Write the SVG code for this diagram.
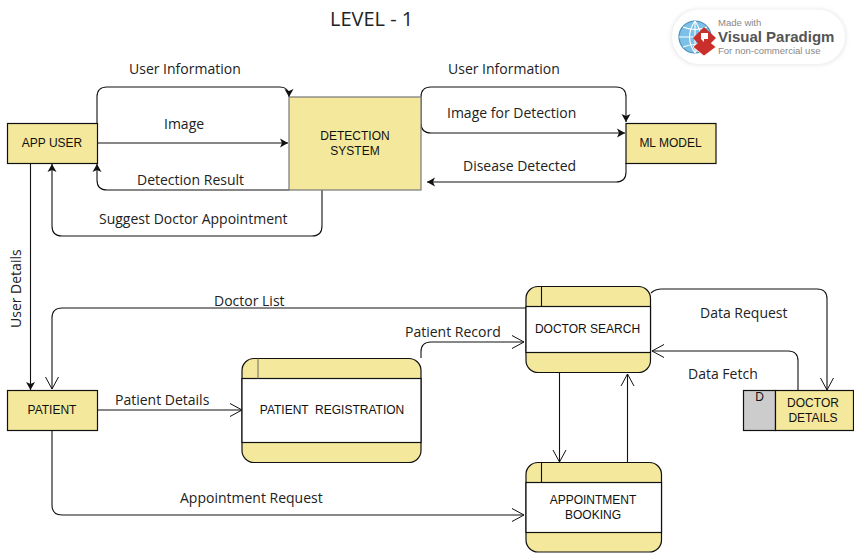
<svg xmlns="http://www.w3.org/2000/svg" width="854" height="553" viewBox="0 0 854 553">
<style>
text{font-family:"Open Sans","Liberation Sans",sans-serif;fill:#222}
.lab{font-size:14px}
.n{font-family:"Liberation Sans",Arial,sans-serif;font-size:12px;fill:#111;text-anchor:middle}
.lg{font-family:"Liberation Sans",Arial,sans-serif;fill:#888}
.box{fill:#f4e89c;stroke:#111;stroke-width:1.2}
.body{fill:#fff;stroke:#111;stroke-width:1.2}
.c{fill:none;stroke:#111;stroke-width:1.1}
.o{marker-end:url(#open)}
.f{marker-end:url(#fill)}
</style>
<defs>
<marker id="open" markerUnits="userSpaceOnUse" markerWidth="16" markerHeight="16" refX="13" refY="8" orient="auto"><path d="M1 1.500L13 8L1 14.500" fill="none" stroke="#111" stroke-width="1"/></marker>
<marker id="fill" markerUnits="userSpaceOnUse" markerWidth="12" markerHeight="12" refX="9" refY="6" orient="auto"><path d="M1 1.500L9 6L1 10.500L3 6Z" fill="#111"/></marker>
<filter id="sh" x="-10%" y="-20%" width="120%" height="140%"><feGaussianBlur stdDeviation="2"/></filter>
</defs>
<text x="330" y="26" font-size="20">LEVEL - 1</text>
<g id="logo">
<rect x="671" y="9" width="175" height="56" rx="27" fill="#e8e8e8" filter="url(#sh)"/>
<rect x="672" y="9.500" width="173" height="54.500" rx="27" fill="#fff"/>
<circle cx="695" cy="37" r="16" fill="#7cc0e8" stroke="#4a8fb8" stroke-width="1.200"/>
<path d="M679 37H711M695 21V53M683 27Q695 32 707 27M683 47Q695 42 707 47M695 21Q684 37 695 53M695 21Q706 37 695 53" fill="none" stroke="#fff" stroke-width="1.100"/>
<path d="M704 37L716 47L704 56L693 47Z" fill="#c9302c" stroke="#fff" stroke-width="0.800"/>
<path d="M704 27L716 38L704 50L693 38Z" fill="#c9302c"/>
<path d="M701 33L708 33L708 39L704 39L704 42L701 39Z" fill="#fff"/>
<text class="lg" x="718" y="26" font-size="9.500">Made with</text>
<text class="lg" x="718" y="42" font-size="15" font-weight="700" style="fill:#555">Visual Paradigm</text>
<text class="lg" x="718" y="54" font-size="9.500">For non-commercial use</text>
</g>
<g id="connectors">
<path class="c f" d="M97 123V97Q97 87 107 87H280Q289 87 289 97"/>
<path class="c f" d="M97 143H288"/>
<path class="c f" d="M289 190H107Q97 190 97 180V164"/>
<path class="c f" d="M322 190V226Q322 236 312 236H62Q52 236 52 226V164"/>
<path class="c f" d="M30.500 163V390"/>
<path class="c o" d="M526 308H62Q52 308 52 318V389"/>
<path class="c o" d="M97 410H242"/>
<path class="c o" d="M52 430V505Q52 515 62 515H524"/>
<path class="c o" d="M421 358V352Q421 342 431 342H524"/>
<path class="c o" d="M559.500 372V462"/>
<path class="c o" d="M627.500 462V374"/>
<path class="c o" d="M651 293Q655 289 662 289H817Q827 289 827 299V390"/>
<path class="c o" d="M798 390V361Q798 351 788 351H652"/>
<path class="c f" d="M421 123V97Q421 87 431 87H616Q626 87 626 97V122"/>
<path class="c f" d="M421 123Q421 133 431 133H625"/>
<path class="c f" d="M626 163V172Q626 182 616 182H427"/>
</g>
<g id="app-user"><rect class="box" x="7.500" y="123.500" width="90" height="40"/><text class="n" x="52" y="147">APP USER</text></g>
<g id="detection-system"><rect class="box" x="289" y="97" width="132" height="93" style="stroke:#777"/><text class="n" x="355" y="140">DETECTION</text><text class="n" x="355" y="155">SYSTEM</text></g>
<g id="ml-model"><rect class="box" x="626" y="123.500" width="90" height="40"/><text class="n" x="670.500" y="147">ML MODEL</text></g>
<g id="patient"><rect class="box" x="7.500" y="390.500" width="90" height="40"/><text class="n" x="52" y="414">PATIENT</text></g>
<g id="patient-registration"><rect class="box" x="242" y="358.500" width="179" height="104" rx="12"/><rect class="body" x="242" y="378.500" width="179" height="64"/><path class="c" d="M258 358.500V378.500" style="stroke:#776"/><text class="n" x="332" y="414" xml:space="preserve">PATIENT  REGISTRATION</text></g>
<g id="doctor-search"><rect class="box" x="526" y="286.500" width="124.500" height="86" rx="12"/><rect class="body" x="526" y="306.500" width="124.500" height="46"/><path class="c" d="M541.500 286.500V306.500"/><text class="n" x="587.500" y="333">DOCTOR SEARCH</text></g>
<g id="appointment-booking"><rect class="box" x="526" y="462.500" width="135.500" height="89.500" rx="12"/><rect class="body" x="526" y="482.500" width="135.500" height="50"/><path class="c" d="M541.500 462.500V482.500"/><text class="n" x="593" y="504">APPOINTMENT</text><text class="n" x="593" y="519">BOOKING</text></g>
<g id="doctor-details"><rect x="743.500" y="390.500" width="32" height="40" fill="#ccc" stroke="#111" stroke-width="1.200"/><rect class="box" x="775.500" y="390.500" width="78" height="40"/><text class="n" x="759.500" y="401">D</text><text class="n" x="813" y="407">DOCTOR</text><text class="n" x="813" y="422">DETAILS</text></g>
<g id="labels">
<text class="lab" x="129" y="74">User Information</text>
<text class="lab" x="448" y="74">User Information</text>
<text class="lab" x="164" y="129">Image</text>
<text class="lab" x="447" y="118">Image for Detection</text>
<text class="lab" x="137" y="185">Detection Result</text>
<text class="lab" x="463" y="171">Disease Detected</text>
<text class="lab" x="99" y="224">Suggest Doctor Appointment</text>
<text class="lab" transform="translate(21 328) rotate(-90)">User Details</text>
<text class="lab" x="214" y="306">Doctor List</text>
<text class="lab" x="405" y="337">Patient Record</text>
<text class="lab" x="115" y="405">Patient Details</text>
<text class="lab" x="180" y="503">Appointment Request</text>
<text class="lab" x="700" y="318">Data Request</text>
<text class="lab" x="688" y="379">Data Fetch</text>
</g>
</svg>
